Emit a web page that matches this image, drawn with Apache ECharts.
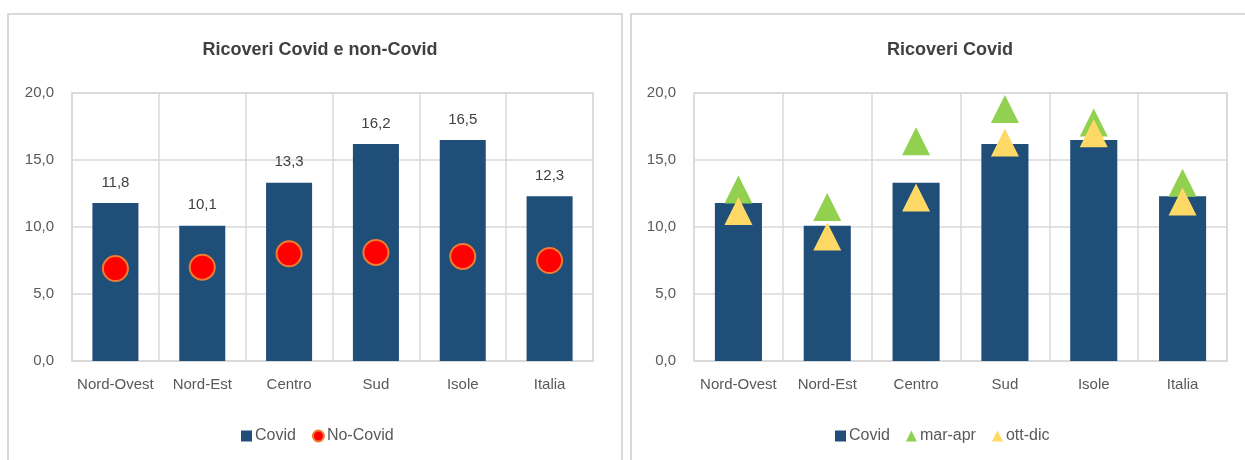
<!DOCTYPE html>
<html>
<head>
<meta charset="utf-8">
<script src="https://cdn.jsdelivr.net/npm/echarts@6/dist/echarts.min.js"></script>
<style>
  html, body { margin: 0; padding: 0; background: #ffffff; }
  #chart { width: 1245px; height: 460px; }
</style>
</head>
<body>
<div id="chart"></div>
<script>
// ---- data ----
var categories = ['Nord-Ovest', 'Nord-Est', 'Centro', 'Sud', 'Isole', 'Italia'];
var covid = [11.8, 10.1, 13.3, 16.2, 16.5, 12.3];
var noCovid = [6.9, 7.0, 8.0, 8.1, 7.8, 7.5];
var marApr = [12.8, 11.5, 16.4, 18.8, 17.8, 13.3];
var ottDic = [11.2, 9.3, 12.2, 16.3, 17.0, 11.9];
var yTicks = [0, 5, 10, 15, 20];
var titles = ['Ricoveri Covid e non-Covid', 'Ricoveri Covid'];

var FONT = '"Liberation Sans", Arial, sans-serif';
var GRID_C = '#d9d9d9';
var BAR_C = '#1f4e79';

function fmt(v) { return Number(v).toFixed(1).replace('.', ','); }

function xAxisCfg(gi) {
  return {
    type: 'category', gridIndex: gi, data: categories,
    axisLine: { show: true, lineStyle: { color: GRID_C, width: 2 } },
    axisTick: { show: false, interval: 0 },
    axisLabel: { color: '#595959', fontFamily: FONT, fontSize: 15, margin: 16, interval: 0 },
    splitLine: { show: true, interval: 0, lineStyle: { color: GRID_C, width: 1.5 } }
  };
}
function yAxisCfg(gi) {
  return {
    type: 'value', gridIndex: gi, min: 0, max: yTicks[yTicks.length - 1], interval: yTicks[1] - yTicks[0],
    axisLine: { show: false }, axisTick: { show: false },
    axisLabel: { color: '#595959', fontFamily: FONT, fontSize: 15, margin: 18, formatter: fmt },
    splitLine: { show: true, lineStyle: { color: GRID_C, width: 1.5 } }
  };
}

var chart = echarts.init(document.getElementById('chart'), null, { renderer: 'canvas' });
chart.setOption({
  animation: false,
  backgroundColor: '#ffffff',
  graphic: [
    { type: 'rect', shape: { x: 8, y: 14, width: 614, height: 470 }, style: { fill: 'none', stroke: GRID_C, lineWidth: 2 }, z: -10 },
    { type: 'rect', shape: { x: 631, y: 14, width: 630, height: 470 }, style: { fill: 'none', stroke: GRID_C, lineWidth: 2 }, z: -10 }
  ],
  title: [
    { text: titles[0], left: 315, top: 36, textAlign: 'center',
      textStyle: { fontFamily: FONT, fontSize: 18, fontWeight: 'bold', color: '#404040' } },
    { text: titles[1], left: 945, top: 36, textAlign: 'center',
      textStyle: { fontFamily: FONT, fontSize: 18, fontWeight: 'bold', color: '#404040' } }
  ],
  legend: [
    { left: 236, top: 423, itemWidth: 11, itemHeight: 11, itemGap: 16,
      textStyle: { fontFamily: FONT, fontSize: 16, color: '#595959', padding: [0, 0, 0, -2] },
      data: [{ name: 'Covid', icon: 'rect' }, { name: 'No-Covid' }] },
    { left: 830, top: 423, itemWidth: 11, itemHeight: 11, itemGap: 16,
      textStyle: { fontFamily: FONT, fontSize: 16, color: '#595959', padding: [0, 0, 0, -2] },
      data: [{ name: 'Covid', icon: 'rect' }, { name: 'mar-apr' }, { name: 'ott-dic' }] }
  ],
  grid: [
    { left: 72, top: 93, width: 521, height: 268, show: true, borderColor: GRID_C, borderWidth: 1.5 },
    { left: 694, top: 93, width: 533, height: 268, show: true, borderColor: GRID_C, borderWidth: 1.5 }
  ],
  xAxis: [xAxisCfg(0), xAxisCfg(1)],
  yAxis: [yAxisCfg(0), yAxisCfg(1)],
  series: [
    { name: 'Covid', type: 'bar', xAxisIndex: 0, yAxisIndex: 0, data: covid, barWidth: '53%',
      itemStyle: { color: BAR_C },
      label: { show: true, position: 'top', distance: 13, formatter: function (p) { return fmt(p.value); },
        fontFamily: FONT, fontSize: 15, color: '#404040' } },
    { name: 'No-Covid', type: 'scatter', xAxisIndex: 0, yAxisIndex: 0, data: noCovid,
      symbol: 'circle', symbolSize: 25,
      itemStyle: { color: '#ff0000', borderColor: '#ed7d31', borderWidth: 2, opacity: 1 }, z: 5 },
    { name: 'Covid', type: 'bar', xAxisIndex: 1, yAxisIndex: 1, data: covid, barWidth: '53%',
      itemStyle: { color: BAR_C } },
    { name: 'mar-apr', type: 'scatter', xAxisIndex: 1, yAxisIndex: 1, data: marApr,
      symbol: 'triangle', symbolSize: [28, 28],
      itemStyle: { color: '#92d050', opacity: 1 }, z: 5 },
    { name: 'ott-dic', type: 'scatter', xAxisIndex: 1, yAxisIndex: 1, data: ottDic,
      symbol: 'triangle', symbolSize: [28, 28],
      itemStyle: { color: '#ffd966', opacity: 1 }, z: 6 }
  ]
});
</script>
</body>
</html>
